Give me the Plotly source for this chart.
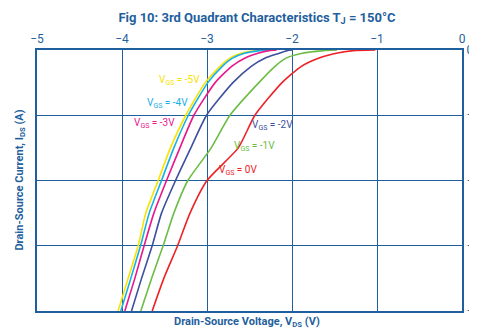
import plotly.graph_objects as go

# Current levels (A) at which the voltage of each curve was read
current_levels = [-80, -70, -60, -50, -40, -30, -20, -10, -5, -2.5, -1, -0.2, 0]

# Drain-source voltage (V) of each VGS curve at those current levels
v_gs_m5 = [-4.046, -3.928, -3.81, -3.72, -3.575, -3.43, -3.249, -3.02, -2.846, -2.73, -2.60, -2.42, -2.30]
v_gs_m4 = [-4.014, -3.896, -3.782, -3.68, -3.535, -3.39, -3.219, -2.99, -2.82, -2.70, -2.56, -2.38, -2.27]
v_gs_m3 = [-3.967, -3.849, -3.740, -3.625, -3.476, -3.319, -3.154, -2.904, -2.71, -2.557, -2.40, -2.27, -2.18]
v_gs_m2 = [-3.888, -3.770, -3.645, -3.535, -3.37, -3.19, -3.005, -2.695, -2.48, -2.32, -2.15, -2.06, -2.00]
v_gs_m1 = [-3.779, -3.652, -3.516, -3.39, -3.225, -2.95, -2.73, -2.39, -2.20, -2.07, -1.88, -1.63, -1.47]
v_gs_0 = [-3.645, -3.508, -3.346, -3.20, -3.00, -2.632, -2.436, -2.117, -1.89, -1.69, -1.48, -1.28, -1.02]

series_names = ["V<sub>GS</sub> = -5V", "V<sub>GS</sub> = -4V", "V<sub>GS</sub> = -3V",
                "V<sub>GS</sub> = -2V", "V<sub>GS</sub> = -1V", "V<sub>GS</sub> = 0V"]
series_values = [v_gs_m5, v_gs_m4, v_gs_m3, v_gs_m2, v_gs_m1, v_gs_0]
series_colors = ["#f7e400", "#1aaee6", "#e8178a", "#3d4f9f", "#6cbd45", "#ec2227"]

# label positions (V, A)
label_x = [-3.319, -3.464, -3.617, -2.23, -2.447, -2.633]
label_y = [-9.5, -16.3, -22.5, -23.0, -29.6, -36.8]

x_ticks = [-5, -4, -3, -2, -1, 0]
y_ticks = [-80, -60, -40, -20, 0]

blue = "#1f5f9e"
font_family = "Roboto, sans-serif"

fig = go.Figure()
for name, vals, col in zip(series_names, series_values, series_colors):
    fig.add_trace(go.Scatter(
        x=vals, y=current_levels, mode="lines", name=name,
        line=dict(color=col, width=1.6, shape="spline", smoothing=0.6),
        showlegend=False,
    ))

for name, lx, ly, col in zip(series_names, label_x, label_y, series_colors):
    fig.add_annotation(x=lx, y=ly, text=name, showarrow=False,
                       font=dict(family=font_family, size=10, color=col),
                       xanchor="center", yanchor="middle")

fig.add_annotation(xref="paper", yref="paper", x=0.495, y=-0.042,
                   text="<b>Drain-Source Voltage, V<sub>DS</sub> (V)</b>",
                   showarrow=False, xanchor="center", yanchor="middle",
                   font=dict(family=font_family, size=11, color=blue))
fig.add_annotation(xref="paper", yref="paper", x=-0.041, y=0.502,
                   text="<b>Drain-Source Current, I<sub>DS</sub> (A)</b>",
                   showarrow=False, xanchor="center", yanchor="middle", textangle=-90,
                   font=dict(family=font_family, size=11, color=blue))

# the page body adds an 8px offset; margins compensate so the plot area lands at
# x 37..462, y 50..311 of the window
fig.update_layout(
    width=477, height=334,
    margin=dict(l=29, r=23, t=42, b=31, autoexpand=False),
    paper_bgcolor="white", plot_bgcolor="white",
    title=dict(text="<b>Fig 10: 3rd Quadrant Characteristics T<sub>J</sub> = 150°C</b>",
               x=249 / 477, xref="container", xanchor="center",
               y=1 - 9 / 334, yref="container", yanchor="middle", automargin=False,
               font=dict(family=font_family, size=13, color=blue)),
    xaxis=dict(range=[-5, 0], side="top", tickvals=x_ticks, automargin=False,
               showgrid=True, gridcolor=blue, gridwidth=1.3,
               showline=True, linecolor=blue, linewidth=2, mirror=True,
               zeroline=False, ticks="", ticklen=0,
               tickfont=dict(family=font_family, size=12, color=blue)),
    yaxis=dict(range=[-80, 0], side="right", tickvals=y_ticks, automargin=False,
               showgrid=True, gridcolor=blue, gridwidth=1.3,
               showline=True, linecolor=blue, linewidth=2, mirror=True,
               zeroline=False, ticks="", ticklen=0,
               tickfont=dict(family=font_family, size=12, color=blue)),
)

fig.write_html("out.html")
